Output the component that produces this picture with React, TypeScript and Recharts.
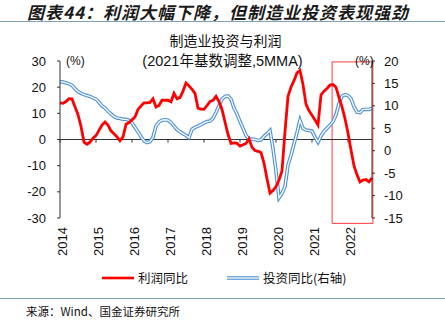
import { LineChart, Line, XAxis, YAxis, ReferenceLine, ReferenceArea } from 'recharts';

// monthly, Jan 2014 .. Sep 2022 (5MMA)
const profit = [
  14, 13.8, 14.5, 15.6, 15.5, 12.5, 9.5, 5, -1, -1.8, -1, 0.5,
  1.5, 3.5, 5.5, 6.7, 5.5, 3.3, 2.2, 1, -0.5, 1, 5.8, 6.5,
  7.5, 8.6, 11.5, 12.8, 14, 14, 14.2, 15.6, 12.4, 13, 15, 15,
  15, 14.4, 17.6, 15.6, 16, 18.5, 21.6, 20.5, 19.2, 17.6, 12, 11.6,
  11.5, 13, 14.5, 15, 16.5, 14.5, 11.5, 6.7, 2, -1.5, -1.3, -1.5,
  -2.5, -2, -1.5, 0.3, -3, -4.2, -4.5, -5, -9, -15, -20.5, -19.5,
  -18, -15.5, -12, 3, 16.5, 20, 22.5, 25.5, 26.4, 21, 13.5, 11,
  9.3, 7.5, 5.5, 17, 18.5, 19.5, 20.8, 21, 20, 16, 12.5, 8,
  2.5, -4, -10, -13.5, -16.2, -15.5, -15.3, -16.2, -14.7,
];

const invest = [
  15.4, 15.3, 15.1, 14.9, 14.6, 13.8, 13.2, 12.8, 12.5, 12.3, 12.1, 11.8,
  11.5, 10.8, 10, 9.5, 8.8, 8.2, 7.6, 7.3, 7.2, 7, 7, 6.8,
  6.2, 5.2, 4.2, 3.1, 2.2, 1.8, 2, 3, 5.5, 6.4, 6.8, 6.9,
  6.8, 6.3, 5.5, 4.7, 4.2, 3.8, 3.4, 2.9, 4.8, 5.2, 5.5, 5.8,
  6.2, 6.5, 6.6, 7.2, 8.5, 10, 11.5, 12.1, 12.2, 11.5, 9.5, 8.2,
  6.5, 5, 3.4, 2.6, 2.6, 2.5, 2.3, 2.4, 3.2, 3.8, 4.5, 0.5,
  -4.5, -10.5, -9.5, -8, -3.2, -1, 1.5, 4, 6.8, 5, 4.6, 4.5,
  4.4, 3, 1.9, 3.3, 4.3, 5, 5.7, 6.5, 8, 10.5, 12.2, 12.5,
  12.3, 11.6, 9.8, 8.6, 8.5, 9.2, 9.2, 9.2, 9.5,
];

const years = ['2014', '2015', '2016', '2017', '2018', '2019', '2020', '2021', '2022'];
const leftTicks = [-30, -20, -10, 0, 10, 20, 30];
const rightTicks = [-15, -10, -5, 0, 5, 10, 15, 20];

const data = profit.map((p, i) => ({ i, profit: p, invest: invest[i] }));
const yearIdx = years.map((_, k) => k * 12);

const RED = '#ff0000';
const BLUE = '#4f93d6';
const LINE = '#7fa3bd';
const NUM_FONT = '"Liberation Sans", Arial, sans-serif';
const CJK_FONT = '"Noto Sans CJK SC", sans-serif';

const YearTick = ({ x, y, payload }: any) => (
  <text
    x={x + 2}
    y={y}
    transform={`rotate(-90 ${x + 2} ${y})`}
    textAnchor="end"
    dominantBaseline="central"
    fontSize={13}
    fontFamily={NUM_FONT}
    fill="#111"
  >
    {years[payload.value / 12]}
  </text>
);

export default function App() {
  return (
    <div
      style={{
        position: 'absolute',
        left: 0,
        top: 0,
        width: 445,
        height: 323,
        background: '#fff',
        fontFamily: CJK_FONT,
        color: '#111',
      }}
    >
      <div
        style={{
          position: 'absolute',
          left: 27,
          top: 2,
          fontSize: 17,
          letterSpacing: 1,
          fontWeight: 'bold',
          fontStyle: 'italic',
          color: '#1a1a1a',
          whiteSpace: 'nowrap',
          lineHeight: '19px',
        }}
      >
        图表44：利润大幅下降，但制造业投资表现强劲
      </div>
      <div style={{ position: 'absolute', left: 0, top: 21, width: 445, height: 1, background: LINE }} />

      <LineChart
        width={445}
        height={323}
        data={data}
        margin={{ top: 61, right: 0, bottom: 65, left: 0 }}
        style={{ position: 'absolute', left: 0, top: 0 }}
      >
        <XAxis
          dataKey="i"
          type="number"
          domain={[0, 104]}
          ticks={yearIdx}
          axisLine={false}
          tickLine={false}
          tickSize={0}
          tickMargin={9}
          height={40}
          interval={0}
          tick={<YearTick />}
        />
        <YAxis
          yAxisId="left"
          domain={[-30, 30]}
          ticks={leftTicks}
          width={60}
          axisLine={{ stroke: '#333' }}
          tickLine={{ stroke: '#333' }}
          tickSize={3}
          tickMargin={11}
          interval={0}
          tick={{ fontSize: 13, fill: '#111', fontFamily: NUM_FONT }}
        />
        <YAxis
          yAxisId="right"
          orientation="right"
          domain={[-15, 20]}
          ticks={rightTicks}
          width={73}
          axisLine={{ stroke: '#333' }}
          tickLine={{ stroke: '#333' }}
          tickSize={3}
          tickMargin={9}
          interval={0}
          tick={{ fontSize: 13, fill: '#111', fontFamily: NUM_FONT }}
        />
        <ReferenceLine yAxisId="left" y={0} stroke="#333" />
        {yearIdx.map((k) => (
          <ReferenceLine
            key={k}
            yAxisId="left"
            stroke="#333"
            segment={[{ x: k, y: 0 }, { x: k, y: -1.2 }]}
          />
        ))}
        <Line
          yAxisId="right"
          dataKey="invest"
          stroke={BLUE}
          strokeWidth={3.6}
          dot={false}
          isAnimationActive={false}
        />
        <Line
          yAxisId="right"
          dataKey="invest"
          stroke="#fff"
          strokeWidth={1.3}
          dot={false}
          isAnimationActive={false}
        />
        <Line
          yAxisId="left"
          dataKey="profit"
          stroke={RED}
          strokeWidth={2.8}
          dot={false}
          isAnimationActive={false}
        />
        <ReferenceArea
          yAxisId="right"
          x1={90.7}
          x2={104.3}
          y1={-16.2}
          y2={19.8}
          ifOverflow="visible"
          fill="none"
          stroke="#ff3b3b"
          strokeWidth={1}
        />
      </LineChart>

      <div
        style={{
          position: 'absolute',
          left: 0,
          width: 445,
          top: 31,
          textAlign: 'center',
          fontSize: 14,
          lineHeight: '18px',
          paddingLeft: 6,
          boxSizing: 'border-box',
        }}
      >
        制造业投资与利润
      </div>
      <div
        style={{
          position: 'absolute',
          left: 0,
          width: 445,
          top: 52,
          textAlign: 'center',
          fontSize: 14.5,
          lineHeight: '18px',
          fontFamily: `${NUM_FONT.split(',')[0]}, ${CJK_FONT}`,
        }}
      >
        (2021年基数调整,5MMA)
      </div>
      <div style={{ position: 'absolute', left: 66, top: 54, fontSize: 12, fontFamily: NUM_FONT }}>(%)</div>
      <div style={{ position: 'absolute', left: 355, top: 54, fontSize: 12, fontFamily: NUM_FONT }}>(%)</div>

      <div style={{ position: 'absolute', left: 102, top: 268, display: 'flex', alignItems: 'center', fontSize: 12.5 }}>
        <svg width={32} height={16}>
          <line x1={0} y1={8} x2={32} y2={8} stroke={RED} strokeWidth={2.6} />
        </svg>
        <span style={{ marginLeft: 4 }}>利润同比</span>
      </div>
      <div style={{ position: 'absolute', left: 227, top: 268, display: 'flex', alignItems: 'center', fontSize: 12.5 }}>
        <svg width={32} height={16}>
          <line x1={0} y1={8} x2={32} y2={8} stroke={BLUE} strokeWidth={3.6} />
          <line x1={0} y1={8} x2={32} y2={8} stroke="#fff" strokeWidth={1.3} />
        </svg>
        <span style={{ marginLeft: 4 }}>投资同比(右轴)</span>
      </div>

      <div style={{ position: 'absolute', left: 0, top: 298, width: 445, height: 1, background: LINE }} />
      <div style={{ position: 'absolute', left: 26, top: 303, fontSize: 11.5, lineHeight: '16px', whiteSpace: 'nowrap' }}>
        来源：Wind、国金证券研究所
      </div>
    </div>
  );
}
